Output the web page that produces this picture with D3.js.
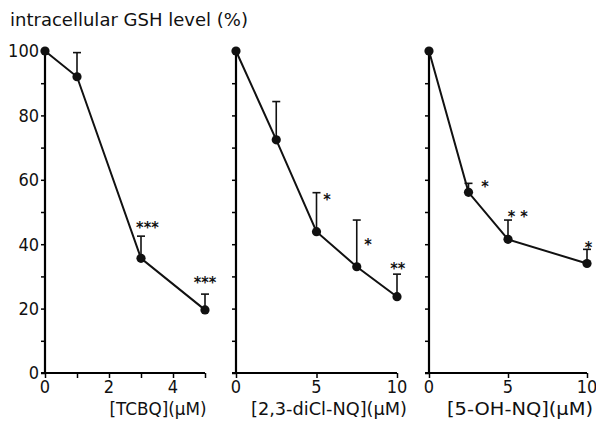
<!DOCTYPE html>
<html>
<head>
<meta charset="utf-8">
<script src="https://cdn.jsdelivr.net/npm/d3@7"></script>
<style>
  body { margin: 0; background: #fff; }
  svg { display: block; }
  text { font-family: "DejaVu Sans Condensed", "DejaVu Sans", sans-serif; fill: #111; }
</style>
</head>
<body>
<div id="chart"></div>
<script>
// Data (upper error bars only)
const tcbqConc = [0, 1, 3, 5];
const tcbqGsh = [100, 92, 35.6, 19.6];
const tcbqErr = [100, 99.5, 42.5, 24.5];

const diclConc = [0, 2.5, 5, 7.5, 10];
const diclGsh = [100, 72.4, 43.9, 33, 23.7];
const diclErr = [100, 84.3, 56, 47.5, 30.7];

const ohConc = [0, 2.5, 5, 10];
const ohGsh = [100, 56.1, 41.5, 34];
const ohErr = [100, 58.9, 47.5, 38.4];

// significance marks: [x, y, label]
const tcbqStars = [[3.2, 47, '***'], [5, 30, '***']];
const diclStars = [[5.65, 55.6, '*'], [8.2, 41.6, '*'], [10.05, 34.2, '**']];
const ohStars = [[3.54, 59.6, '*'], [5.62, 50.3, '* *'], [10.1, 40.7, '*']];

const yTickLabels = [0, 20, 40, 60, 80, 100];
const yMinorTicks = d3.range(0, 101, 10);

const panels = [
  { conc: tcbqConc, gsh: tcbqGsh, err: tcbqErr, stars: tcbqStars, xMax: 5, xTicks: [0, 1, 2, 3, 4, 5], xLabels: [0, 2, 4],
    label: '[TCBQ](μM)', left: 45, right: 205, labelX: 158, labelLen: 97, yLabels: true },
  { conc: diclConc, gsh: diclGsh, err: diclErr, stars: diclStars, xMax: 10, xTicks: [0, 5, 10], xLabels: [0, 5, 10],
    label: '[2,3-diCl-NQ](μM)', left: 236, right: 397, labelX: 329, labelLen: 156, yLabels: false },
  { conc: ohConc, gsh: ohGsh, err: ohErr, stars: ohStars, xMax: 10, xTicks: [0, 5, 10], xLabels: [0, 5, 10],
    label: '[5-OH-NQ](μM)', left: 429, right: 587, labelX: 520, labelLen: 146, yLabels: false }
];

const width = 596, height = 432;
const svg = d3.select('#chart').append('svg')
  .attr('width', width)
  .attr('height', height);

const y = d3.scaleLinear().domain([0, 100]).range([373, 51]);

svg.append('text')
  .attr('x', 10)
  .attr('y', 26)
  .attr('font-size', 17)
  .attr('textLength', 238)
  .attr('lengthAdjust', 'spacingAndGlyphs')
  .text('intracellular GSH level (%)');

panels.forEach(p => {
  const x = d3.scaleLinear().domain([0, p.xMax]).range([p.left, p.right]);
  const g = svg.append('g');

  // y axis
  const yAxis = g.append('g')
    .attr('transform', `translate(${p.left},0)`)
    .call(d3.axisLeft(y).tickValues(yMinorTicks).tickSize(4).tickFormat(''));
  yAxis.select('.domain').attr('stroke-width', 2.2).attr('d', `M0,${y(0) + 1}V${y(100)}`);
  yAxis.selectAll('.tick line').attr('stroke-width', 1.5);

  if (p.yLabels) {
    g.selectAll('text.ylab')
      .data(yTickLabels)
      .join('text')
      .attr('class', 'ylab')
      .attr('x', p.left - 6)
      .attr('y', d => y(d))
      .attr('dy', '0.36em')
      .attr('text-anchor', 'end')
      .attr('font-size', 18)
      .text(d => d);
  }

  // x axis
  const xAxis = g.append('g')
    .attr('transform', `translate(0,${y(0)})`)
    .call(d3.axisBottom(x).tickValues(p.xTicks).tickSize(5).tickFormat(''));
  xAxis.select('.domain').attr('stroke-width', 2.2).attr('d', `M${p.left - 4},0H${p.right}`);
  xAxis.selectAll('.tick line').attr('stroke-width', 1.5);

  g.selectAll('text.xlab')
    .data(p.xLabels)
    .join('text')
    .attr('class', 'xlab')
    .attr('x', d => x(d))
    .attr('y', 393)
    .attr('text-anchor', 'middle')
    .attr('font-size', 18)
    .text(d => d);

  g.append('text')
    .attr('x', p.labelX)
    .attr('y', 415)
    .attr('text-anchor', 'middle')
    .attr('font-size', 17)
    .attr('textLength', p.labelLen)
    .attr('lengthAdjust', 'spacingAndGlyphs')
    .text(p.label);

  const pts = p.conc.map((c, i) => ({ c, v: p.gsh[i], e: p.err[i] }));

  // error bars
  const eb = g.selectAll('g.err')
    .data(pts.filter(d => d.e > d.v + 0.5))
    .join('g')
    .attr('class', 'err');
  eb.append('line')
    .attr('x1', d => x(d.c)).attr('x2', d => x(d.c))
    .attr('y1', d => y(d.v)).attr('y2', d => y(d.e))
    .attr('stroke', '#111').attr('stroke-width', 1.6);
  eb.append('line')
    .attr('x1', d => x(d.c) - 4).attr('x2', d => x(d.c) + 4)
    .attr('y1', d => y(d.e)).attr('y2', d => y(d.e))
    .attr('stroke', '#111').attr('stroke-width', 1.6);

  // line
  const line = d3.line().x(d => x(d.c)).y(d => y(d.v));
  g.append('path')
    .datum(pts)
    .attr('d', line)
    .attr('fill', 'none')
    .attr('stroke', '#111')
    .attr('stroke-width', 2);

  g.selectAll('circle')
    .data(pts)
    .join('circle')
    .attr('cx', d => x(d.c))
    .attr('cy', d => y(d.v))
    .attr('r', 4.6)
    .attr('fill', '#111');

  g.selectAll('text.star')
    .data(p.stars)
    .join('text')
    .attr('class', 'star')
    .attr('x', d => x(d[0]))
    .attr('y', d => y(d[1]))
    .attr('dy', '0.7em')
    .attr('text-anchor', 'middle')
    .attr('font-size', 16)
    .attr('font-weight', 'bold')
    .attr('fill', '#111')
    .text(d => d[2]);
});
</script>
</body>
</html>
